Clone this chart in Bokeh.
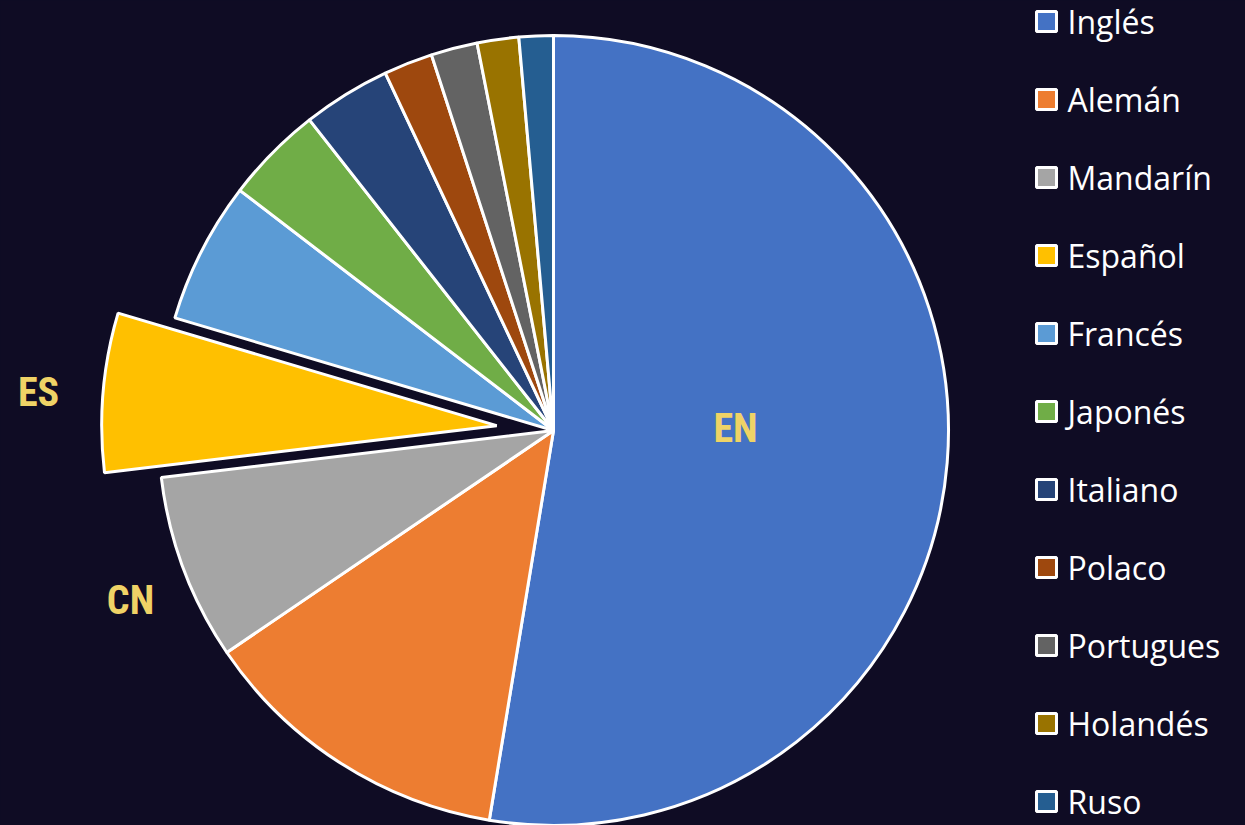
import math
from bokeh.plotting import figure
from bokeh.models import Range1d, ColumnDataSource
from bokeh.core.properties import value
from bokeh.embed import file_html
from bokeh.resources import INLINE

# ---- data ----
languages = ["Inglés", "Alemán", "Mandarín", "Español", "Francés", "Japonés",
             "Italiano", "Polaco", "Portugues", "Holandés", "Ruso"]
shares = [52.6, 12.9, 7.6, 6.5, 5.8, 4.0, 3.6, 2.0, 1.9, 1.7, 1.4]
colors = ["#4472C4", "#ED7D31", "#A5A5A5", "#FFC000", "#5B9BD5", "#70AD47",
          "#264478", "#9E480E", "#636363", "#997300", "#255E91"]
codes = {"Inglés": "EN", "Mandarín": "CN", "Español": "ES"}
exploded = "Español"

BG = "#0f0c24"
LABEL = "#efd366"

W, H = 1245, 825
p = figure(width=W, height=H, output_backend="svg", toolbar_location=None,
           x_range=Range1d(0, W), y_range=Range1d(0, H),
           x_axis_location=None, y_axis_location=None, min_border=0,
           background_fill_color=BG, border_fill_color=BG, outline_line_color=None)
p.xgrid.visible = False
p.ygrid.visible = False

# pie geometry (data coords: x = screen x, y = 825 - screen y)
cx, cy, R = 553, H - 430, 395
explode_px = 57

total = sum(shares)
xs, ys, starts, ends = [], [], [], []
cum = 0.0
for lang, s in zip(languages, shares):
    a0 = math.pi / 2 - 2 * math.pi * cum / total
    cum += s
    a1 = math.pi / 2 - 2 * math.pi * cum / total
    mid = (a0 + a1) / 2
    ox = oy = 0.0
    if lang == exploded:
        ox, oy = explode_px * math.cos(mid), explode_px * math.sin(mid)
    xs.append(cx + ox)
    ys.append(cy + oy)
    starts.append(a1)
    ends.append(a0)

src = ColumnDataSource(dict(x=xs, y=ys, start=starts, end=ends, color=colors, lang=languages))
p.wedge(x="x", y="y", radius=R, radius_units="screen", start_angle="start", end_angle="end",
        fill_color="color", line_color="white", line_width=3, source=src)

# data labels
label_pos = {"EN": (735, 428), "ES": (38, 392), "CN": (130, 600)}
lx, ly, lt = [], [], []
for lang in languages:
    if lang in codes:
        c = codes[lang]
        sx, sy = label_pos[c]
        lx.append(sx)
        ly.append(H - sy)
        lt.append(c)
p.text(x=lx, y=ly, text=lt, text_color=LABEL,
       text_font=value("Roboto Condensed, DejaVu Sans Condensed, Roboto"),
       text_font_style="bold", text_font_size="40px", text_align="center",
       text_baseline="middle")

# legend
leg_x = [1046] * len(languages)
leg_y = [H - (21 + 78 * i) for i in range(len(languages))]
p.scatter(x=leg_x, y=leg_y, marker="square", size=20, fill_color=colors,
          line_color="white", line_width=3)
p.text(x=[1067] * len(languages), y=leg_y, text=languages, text_color="white",
       text_font=value("Open Sans"), text_font_size="32px", text_baseline="middle",
       text_align="left")

html = file_html(p, INLINE)
html = html.replace("<head>", "<head><style>html,body{background:%s;}</style>" % BG, 1)
open("out.html", "w").write(html)
